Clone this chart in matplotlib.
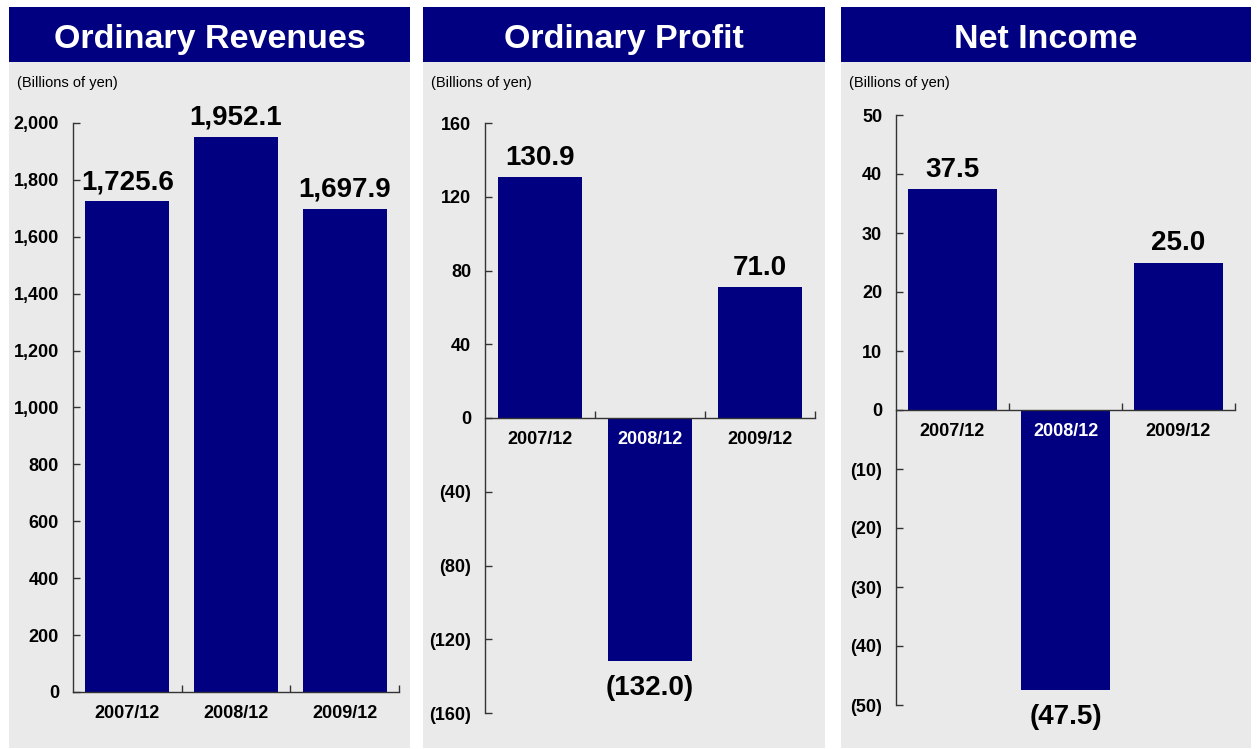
import matplotlib
matplotlib.use("Agg")
from matplotlib import pyplot as plt
from matplotlib.patches import Rectangle
from matplotlib.ticker import FuncFormatter

# font: Arial-like
matplotlib.rc("font", family="Liberation Sans", weight="bold")

# data
categories = ['2007/12', '2008/12', '2009/12']
revenues = [1725.6, 1952.1, 1697.9]
profit = [130.9, -132.0, 71.0]
net_income = [37.5, -47.5, 25.0]

titles = ['Ordinary Revenues', 'Ordinary Profit', 'Net Income']
unit = '(Billions of yen)'

NAVY = '#000080'
GRAY = '#EAEAEA'
W, H = 1257, 749


def box(x0, y0, x1, y1):
    # pixel box (from top-left) -> figure fraction [left, bottom, width, height]
    return [x0 / W, 1 - y1 / H, (x1 - x0) / W, (y1 - y0) / H]


def fmt_num(v, decimals):
    s = f"{abs(v):,.{decimals}f}"
    return f"({s})" if v < 0 else s


def panel(fig, px, ax_px, title, values, yticks, bar_w):
    x0, x1 = px
    # gray background and navy title bar
    b = box(x0, 62, x1, 748)
    fig.add_artist(Rectangle((b[0], b[1]), b[2], b[3], transform=fig.transFigure,
                             facecolor=GRAY, edgecolor='none', zorder=0))
    b = box(x0, 7, x1, 62)
    fig.add_artist(Rectangle((b[0], b[1]), b[2], b[3], transform=fig.transFigure,
                             facecolor=NAVY, edgecolor='none', zorder=0))
    fig.text((x0 + x1) / 2 / W, 1 - 48 / H, title, color='white', fontsize=24.5,
             ha='center', va='baseline')
    fig.text((x0 + 8) / W, 1 - 83 / H, unit, fontsize=10.5, fontweight='normal',
             ha='left', va='center')

    ax = fig.add_axes(box(*ax_px))
    ax.set_facecolor('none')
    x = list(range(len(categories)))
    ax.bar(x, values, width=bar_w, color=NAVY, zorder=2)
    ax.set_xlim(-0.5, len(categories) - 0.5)
    ax.set_ylim(yticks[0], yticks[-1])

    ax.spines['top'].set_visible(False)
    ax.spines['right'].set_visible(False)
    ax.spines['bottom'].set_position(('data', 0))
    for s in ('left', 'bottom'):
        ax.spines[s].set_color('#333333')
        ax.spines[s].set_linewidth(1)

    ax.set_yticks(yticks)
    ax.yaxis.set_major_formatter(FuncFormatter(lambda v, p: fmt_num(v, 0)))
    ax.set_xticks([i + 0.5 for i in x])
    ax.set_xticklabels([])
    ax.tick_params(direction='in', length=5, width=1, color='#333333',
                   labelsize=13, pad=10)

    # category labels just under the zero line
    for i, c in enumerate(categories):
        ax.annotate(c, xy=(i, 0), xytext=(0, -21), textcoords='offset pixels',
                    ha='center', va='center', fontsize=13,
                    color='white' if values[i] < 0 else 'black', zorder=3)

    # value labels
    for i, v in enumerate(values):
        if v >= 0:
            ax.annotate(fmt_num(v, 1), xy=(i, v), xytext=(0, 12),
                        textcoords='offset pixels', ha='center', va='baseline',
                        fontsize=20)
        else:
            ax.annotate(fmt_num(v, 1), xy=(i, v), xytext=(0, -14),
                        textcoords='offset pixels', ha='center', va='top',
                        fontsize=20)
    return ax


fig = plt.figure(figsize=(W / 100, H / 100), dpi=100)
fig.patch.set_facecolor('white')

panel(fig, (9, 410), (73, 123, 399, 692), titles[0], revenues,
      list(range(0, 2001, 200)), 0.77)
panel(fig, (423, 825), (485, 123, 815, 713), titles[1], profit,
      list(range(-160, 161, 40)), 0.77)
panel(fig, (841, 1251), (896, 115, 1235, 705), titles[2], net_income,
      list(range(-50, 51, 10)), 0.78)

fig.savefig('out.png', dpi=100)
